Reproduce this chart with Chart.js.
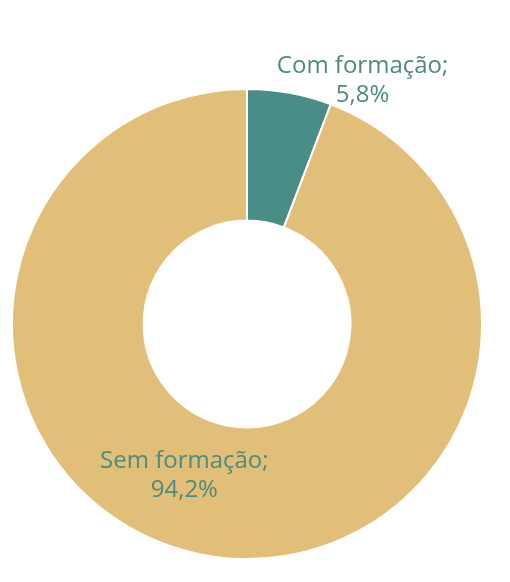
<!DOCTYPE html>
<html>
<head>
<meta charset="utf-8">
<script src="https://cdn.jsdelivr.net/npm/chart.js@4/dist/chart.umd.min.js"></script>
<style>
  html, body { margin: 0; padding: 0; background: #fff; }
  #wrap { width: 510px; height: 582px; }
</style>
</head>
<body>
<div id="wrap"><canvas id="c"></canvas></div>
<script>
// dados
const categories = ['Com formação', 'Sem formação'];
const values = [5.8, 94.2];
const colors = ['#4a8d87', '#e1bf78'];

// rótulos: deslocamento em relação ao ponto médio de cada fatia
const labelOffsets = [
  { r: 1.0, dx: 73, dy: -6 },
  { r: 0.5, dx: -32, dy: -8 }
];

const sliceLabels = {
  id: 'sliceLabels',
  afterDatasetsDraw(chart) {
    const ctx = chart.ctx;
    const meta = chart.getDatasetMeta(0);
    ctx.save();
    ctx.fillStyle = '#4f8a80';
    ctx.font = '24px "Open Sans", Lato, sans-serif';
    ctx.textAlign = 'center';
    ctx.textBaseline = 'alphabetic';
    meta.data.forEach((arc, i) => {
      const p = arc.getProps(['x', 'y', 'startAngle', 'endAngle', 'innerRadius', 'outerRadius'], true);
      const mid = (p.startAngle + p.endAngle) / 2;
      const o = labelOffsets[i];
      const rad = p.innerRadius + (p.outerRadius - p.innerRadius) * o.r;
      const x = p.x + Math.cos(mid) * rad + o.dx;
      const y = p.y + Math.sin(mid) * rad + o.dy;
      const pct = values[i].toFixed(1).replace('.', ',') + '%';
      ctx.fillText(categories[i] + ';', x, y - 14);
      ctx.fillText(pct, x, y + 15);
    });
    ctx.restore();
  }
};

new Chart(document.getElementById('c'), {
  type: 'doughnut',
  data: {
    labels: categories,
    datasets: [{
      data: values,
      backgroundColor: colors,
      borderColor: '#ffffff',
      borderWidth: 2
    }]
  },
  options: {
    responsive: true,
    maintainAspectRatio: false,
    animation: false,
    cutout: '44%',
    layout: { padding: { left: 11, top: 88, right: 27, bottom: 22 } },
    plugins: {
      legend: { display: false },
      tooltip: { enabled: false }
    }
  },
  plugins: [sliceLabels]
});
</script>
</body>
</html>
